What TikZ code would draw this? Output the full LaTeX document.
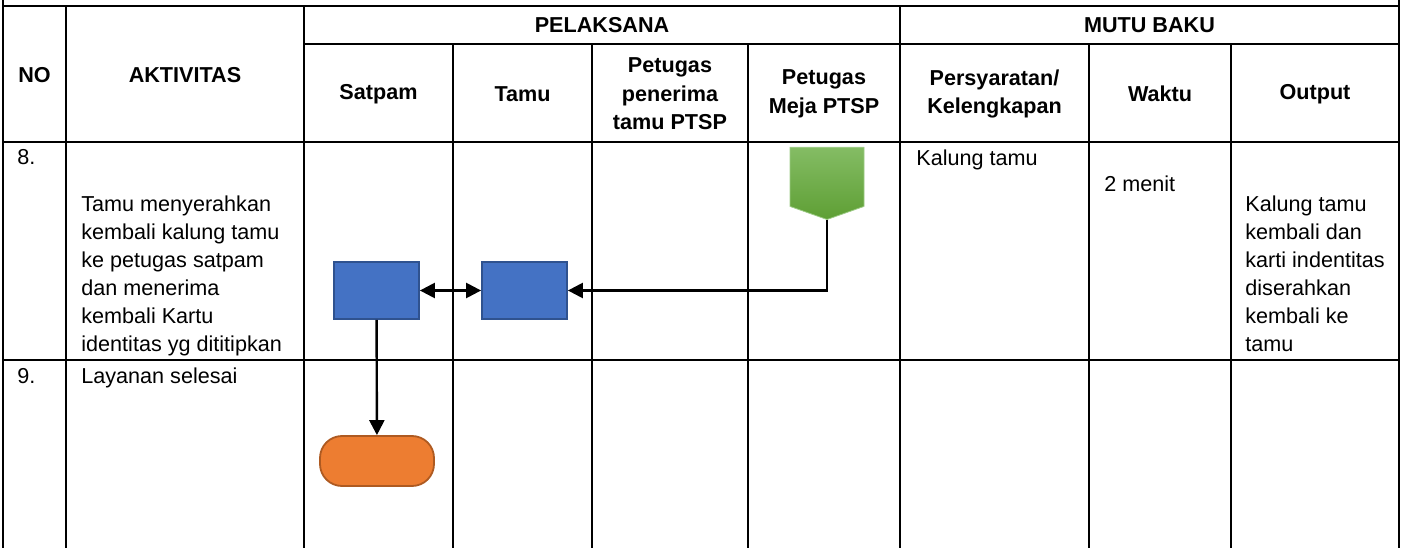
\documentclass[tikz,border=0pt]{standalone}
\usepackage{fontspec}
\setmainfont{Liberation Sans}
\usetikzlibrary{arrows.meta, shapes.symbols}
\definecolor{bluefill}{HTML}{4472C4}
\definecolor{blueedge}{HTML}{2F528F}
\definecolor{orangefill}{HTML}{ED7D31}
\definecolor{orangeedge}{HTML}{AE5A21}
\definecolor{greentop}{HTML}{84BC64}
\definecolor{greenbot}{HTML}{5E9F34}
\definecolor{greenedge}{HTML}{9CCB84}

\begin{document}
\begin{tikzpicture}[x=1pt, y=-1pt, line width=2.8pt,
  hdr/.style={font=\fontsize{21.6}{28.5}\selectfont\bfseries, align=center, inner sep=0pt},
  cell/.style={font=\fontsize{21.6}{28}\selectfont, align=left, anchor=base west, inner sep=0pt},
  procbox/.style={draw=blueedge, fill=bluefill, line width=1.8pt,
    minimum width=85pt, minimum height=57pt, inner sep=0pt},
  endbox/.style={draw=orangeedge, fill=orangefill, line width=1.8pt,
    rounded corners=22pt, minimum width=114pt, minimum height=50pt, inner sep=0pt},
  connbox/.style={signal, signal to=south, signal pointer angle=141,
    draw=greenedge, top color=greentop, bottom color=greenbot, line width=0.8pt,
    minimum width=74pt, minimum height=59pt, inner sep=0pt},
  flow/.style={line width=2.4pt, -{Triangle[length=15pt, width=15pt]}},
  flowboth/.style={line width=2.4pt,
    {Triangle[length=15pt, width=15pt]}-{Triangle[length=15pt, width=15pt]}},
]
  \useasboundingbox (0,0) rectangle (1401,548);

  \draw (3,0) -- (3,548);
  \draw (1399,0) -- (1399,548);
  \draw (3,6) -- (1399,6);
  \draw (304,44) -- (1399,44);
  \draw (3,142) -- (1399,142);
  \draw (3,360) -- (1399,360);
  \foreach \x in {66,304,900} \draw (\x,6) -- (\x,548);
  \foreach \x in {453,592,748,1089,1231} \draw (\x,44) -- (\x,548);

  \node[hdr] (hNo)   at (34.5,75) {NO};
  \node[hdr] (hAkt)  at (185,75)  {AKTIVITAS};
  \node[hdr] (hPel)  at (602,25)  {PELAKSANA};
  \node[hdr] (hMutu) at (1149.5,25) {MUTU BAKU};
  \node[hdr] (hSatpam)   at (378.5,94) {Satpam};
  \node[hdr] (hTamu)     at (522.5,94) {Tamu};
  \node[hdr] (hPenerima) at (670,94)   {Petugas\\penerima\\tamu PTSP};
  \node[hdr] (hMeja)     at (824,94)   {Petugas\\Meja PTSP};
  \node[hdr] (hSyarat)   at (994.5,94) {Persyaratan/\\Kelengkapan};
  \node[hdr] (hWaktu)    at (1160,94)  {Waktu};
  \node[hdr] (hOutput)   at (1315,94)  {Output};

  \node[cell] (no8)  at (16,165) {8.};
  \node[cell] (akt8) at (80,351) {Tamu menyerahkan\\kembali kalung tamu\\ke petugas satpam\\dan menerima\\kembali Kartu\\identitas yg dititipkan};
  \node[cell] (syarat8) at (915,166)  {Kalung tamu};
  \node[cell] (waktu8)  at (1103,192) {2 menit};
  \node[cell] (output8) at (1244,351) {Kalung tamu\\kembali dan\\karti indentitas\\diserahkan\\kembali ke\\tamu};
  \node[cell] (no9)  at (16,383) {9.};
  \node[cell] (akt9) at (80,383) {Layanan selesai};

  \node[procbox] (satpam) at (376.5,290.5) {};
  \node[procbox] (tamu)   at (524.5,290.5) {};
  \node[connbox, anchor=north] (meja) at (827,147) {};
  \node[endbox] (selesai) at (377,461) {};

  \draw[flowboth] (satpam) -- (tamu);
  \draw[flow] (meja.south) |- (tamu.east);
  \draw[flow] (satpam) -- (selesai);
\end{tikzpicture}
\end{document}
